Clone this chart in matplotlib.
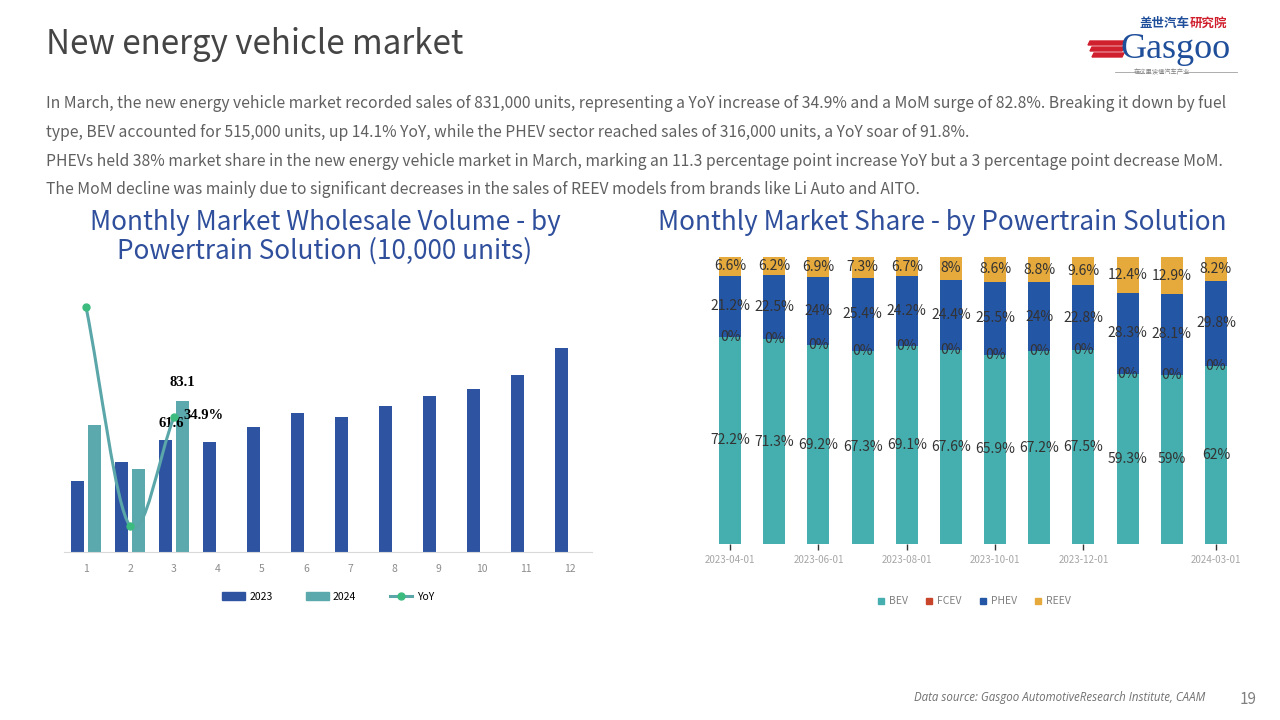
import numpy as np
import matplotlib
matplotlib.use("Agg")
import matplotlib.pyplot as plt
from matplotlib.path import Path
from matplotlib.patches import PathPatch, Patch, Polygon
from matplotlib.lines import Line2D

plt.rcParams['font.family'] = ['Noto Sans CJK SC', 'DejaVu Sans']

# ---------------------------------------------------------
# Data
# ---------------------------------------------------------
months = ['1', '2', '3', '4', '5', '6', '7', '8', '9', '10', '11', '12']
vol_2023 = [39.1, 49.7, 61.6, 60.6, 68.8, 76.5, 74.3, 80.4, 85.9, 89.7, 97.4, 112.3]
vol_2024 = [69.9, 45.5, 83.1]
yoy_2024 = [78.8, -8.5, 34.9]

share_dates = ['2023-04-01', '2023-05-01', '2023-06-01', '2023-07-01', '2023-08-01', '2023-09-01',
               '2023-10-01', '2023-11-01', '2023-12-01', '2024-01-01', '2024-02-01', '2024-03-01']
share_bev = [72.2, 71.3, 69.2, 67.3, 69.1, 67.6, 65.9, 67.2, 67.5, 59.3, 59, 62]
share_fcev = [0, 0, 0, 0, 0, 0, 0, 0, 0, 0, 0, 0]
share_phev = [21.2, 22.5, 24, 25.4, 24.2, 24.4, 25.5, 24, 22.8, 28.3, 28.1, 29.8]
share_reev = [6.6, 6.2, 6.9, 7.3, 6.7, 8, 8.6, 8.8, 9.6, 12.4, 12.9, 8.2]
share_ticks = ['2023-04-01', '2023-06-01', '2023-08-01', '2023-10-01', '2023-12-01', '2024-03-01']

paragraph = [
    "In March, the new energy vehicle market recorded sales of 831,000 units, representing a YoY increase of 34.9% and a MoM surge of 82.8%. Breaking it down by fuel",
    "type, BEV accounted for 515,000 units, up 14.1% YoY, while the PHEV sector reached sales of 316,000 units, a YoY soar of 91.8%.",
    "PHEVs held 38% market share in the new energy vehicle market in March, marking an 11.3 percentage point increase YoY but a 3 percentage point decrease MoM.",
    "The MoM decline was mainly due to significant decreases in the sales of REEV models from brands like Li Auto and AITO.",
]

# colours
C_2023 = '#2E54A1'
C_2024 = '#5BA8AD'
C_YOY_LINE = '#5AA6A9'
C_YOY_DOT = '#3CBB7F'
C_BEV = '#45AEAE'
C_FCEV = '#C8442B'
C_PHEV = '#2456A6'
C_REEV = '#E5A93C'
C_TITLE = '#2F4F9C'
W, H = 1280, 720


def fx(px):
    return px / W


def fy(py):
    return 1 - py / H


fig = plt.figure(figsize=(12.8, 7.2), dpi=100)
fig.patch.set_facecolor('white')

# ---------------------------------------------------------
# Header
# ---------------------------------------------------------
fig.text(fx(46), fy(44), "New energy vehicle market", fontsize=23.8, color='#454545',
         va='center', ha='left', fontweight='light')
for i, line in enumerate(paragraph):
    fig.text(fx(46), fy(104 + i * 28.5), line, fontsize=11.3, color='#606060',
             va='center', ha='left')

# logo
for k in range(3):
    y0 = 41 + k * 6
    fig.patches.append(Polygon([[fx(1090 + k * 2), fy(y0)], [fx(1124), fy(y0)],
                                [fx(1122), fy(y0 + 4)], [fx(1088 + k * 2), fy(y0 + 4)]],
                               closed=True, transform=fig.transFigure, color='#D0202E'))
fig.text(fx(1140), fy(23), "盖世汽车", fontsize=9, color='#1F4E9A', fontweight='bold',
         va='center', ha='left')
fig.text(fx(1190), fy(23), "研究院", fontsize=9, color='#D0202E', fontweight='bold',
         va='center', ha='left')
fig.text(fx(1176), fy(50), "Gasgoo", fontsize=26, color='#1F4E9A', va='center', ha='center',
         family=['Liberation Serif', 'DejaVu Serif'])
fig.text(fx(1162), fy(72), "在这里读懂汽车产业", fontsize=4.5, color='#808080', va='center', ha='center')
fig.lines.append(Line2D([fx(1115), fx(1139)], [fy(72), fy(72)], color='#A0A0A0', lw=0.6,
                        transform=fig.transFigure))
fig.lines.append(Line2D([fx(1185), fx(1237)], [fy(72), fy(72)], color='#A0A0A0', lw=0.6,
                        transform=fig.transFigure))

# footer
fig.text(fx(914), fy(698), "Data source: Gasgoo AutomotiveResearch Institute, CAAM", fontsize=8.3,
         color='#707070', style='italic', va='center', ha='left', family=['Open Sans', 'DejaVu Sans'])
fig.text(fx(1257), fy(699), "19", fontsize=11, color='#808080', va='center', ha='right')

# ---------------------------------------------------------
# Left chart: wholesale volume
# ---------------------------------------------------------
fig.text(fx(325), fy(237), "Monthly Market Wholesale Volume - by\nPowertrain Solution (10,000 units)",
         fontsize=18.8, color=C_TITLE, ha='center', va='center', linespacing=1.1)

ax = fig.add_axes([fx(64), fy(552), fx(592) - fx(64), fy(290) - fy(552)])
x = np.arange(1, 13)
bw = 0.3
ax.bar(x - 0.19, vol_2023, width=bw, color=C_2023, zorder=2)
ax.bar(x[:len(vol_2024)] + 0.19, vol_2024, width=bw, color=C_2024, zorder=2)
ax.set_xlim(0.5, 12.5)
ax.set_ylim(0, 144.2)
ax.set_xticks(x)
ax.set_xticklabels(months, fontsize=7.5, color='#8C8C8C')
ax.tick_params(axis='x', length=0, pad=9)
ax.set_yticks([])
for s in ['top', 'right', 'left']:
    ax.spines[s].set_visible(False)
ax.spines['bottom'].set_color('#D9D9D9')

ax2 = ax.twinx()
ax2.set_ylim(-18.9, 85.5)
ax2.axis('off')

# smoothed YoY line (Bezier through the points)
xs = x[:len(yoy_2024)].astype(float)
pts = np.column_stack([xs, yoy_2024])
tangents = []
for i in range(len(pts)):
    if i == 0:
        tangents.append(pts[1] - pts[0])
    elif i == len(pts) - 1:
        tangents.append(pts[-1] - pts[-2])
    else:
        tangents.append((pts[i + 1] - pts[i - 1]) / 2)
verts = [tuple(pts[0])]
codes = [Path.MOVETO]
for i in range(len(pts) - 1):
    verts += [tuple(pts[i] + tangents[i] / 3), tuple(pts[i + 1] - tangents[i + 1] / 3), tuple(pts[i + 1])]
    codes += [Path.CURVE4] * 3
ax2.add_patch(PathPatch(Path(verts, codes), facecolor='none', edgecolor=C_YOY_LINE, lw=2.2, zorder=3))
ax2.plot(xs, yoy_2024, linestyle='none', marker='o', ms=5, color=C_YOY_DOT, zorder=4)

serif = ['Liberation Serif', 'DejaVu Serif']
ax.annotate(f"{vol_2024[2]:g}", (x[2] + 0.19, vol_2024[2]), xytext=(0, 9), textcoords='offset points',
            ha='center', va='bottom', fontsize=10.5, fontweight='bold', family=serif)
ax.annotate(f"{vol_2023[2]:g}", (x[2] - 0.19, vol_2023[2]), xytext=(4, 12), textcoords='offset points',
            ha='center', va='center', fontsize=10.5, fontweight='bold', family=serif, zorder=5)
ax2.annotate(f"{yoy_2024[2]:g}%", (xs[2], yoy_2024[2]), xytext=(7, 1), textcoords='offset points',
             ha='left', va='center', fontsize=10.5, fontweight='bold', family=serif)

handles = [Patch(color=C_2023, label='2023'), Patch(color=C_2024, label='2024'),
           Line2D([], [], color=C_YOY_LINE, lw=2.2, marker='o', ms=5, mfc=C_YOY_DOT, mec=C_YOY_DOT,
                  label='YoY')]
ax.legend(handles=handles, loc='center', bbox_to_anchor=(0.5, -0.17), ncol=3, frameon=False,
          fontsize=7.5, handlelength=2.2, handleheight=0.8, columnspacing=3.2, handletextpad=0.4)

# ---------------------------------------------------------
# Right chart: market share
# ---------------------------------------------------------
fig.text(fx(942), fy(223), "Monthly Market Share - by Powertrain Solution", fontsize=18.8,
         color=C_TITLE, ha='center', va='center')

axr = fig.add_axes([fx(708), fy(544), fx(1238) - fx(708), fy(257) - fy(544)])
xi = np.arange(len(share_dates))
bottom = np.zeros(len(share_dates))
series = [('BEV', share_bev, C_BEV), ('FCEV', share_fcev, C_FCEV),
          ('PHEV', share_phev, C_PHEV), ('REEV', share_reev, C_REEV)]
for name, vals, col in series:
    vals = np.array(vals, dtype=float)
    axr.bar(xi, vals, bottom=bottom, width=0.5, color=col, label=name, zorder=2)
    for j in range(len(xi)):
        axr.text(xi[j], bottom[j] + vals[j] / 2, f"{vals[j]:g}%", ha='center', va='center',
                 fontsize=10, color='#333333', zorder=3)
    bottom += vals
axr.set_xlim(-0.5, len(share_dates) - 0.5)
axr.set_ylim(0, 100)
axr.set_xticks([share_dates.index(d) for d in share_ticks])
axr.set_xticklabels(share_ticks, fontsize=7, color='#A6A6A6')
axr.tick_params(axis='x', length=4, width=1, color='#333333', pad=4)
axr.set_yticks([])
for s in axr.spines.values():
    s.set_visible(False)
lh = [Line2D([], [], linestyle='none', marker='s', ms=5, color=c, label=n) for n, _, c in series]
axr.legend(handles=lh, loc='center', bbox_to_anchor=(0.5, -0.2), ncol=4, frameon=False,
           fontsize=7.5, handletextpad=0.2, handlelength=1.2, columnspacing=1.4, labelcolor='#808080')

fig.savefig("out.png", dpi=100)
